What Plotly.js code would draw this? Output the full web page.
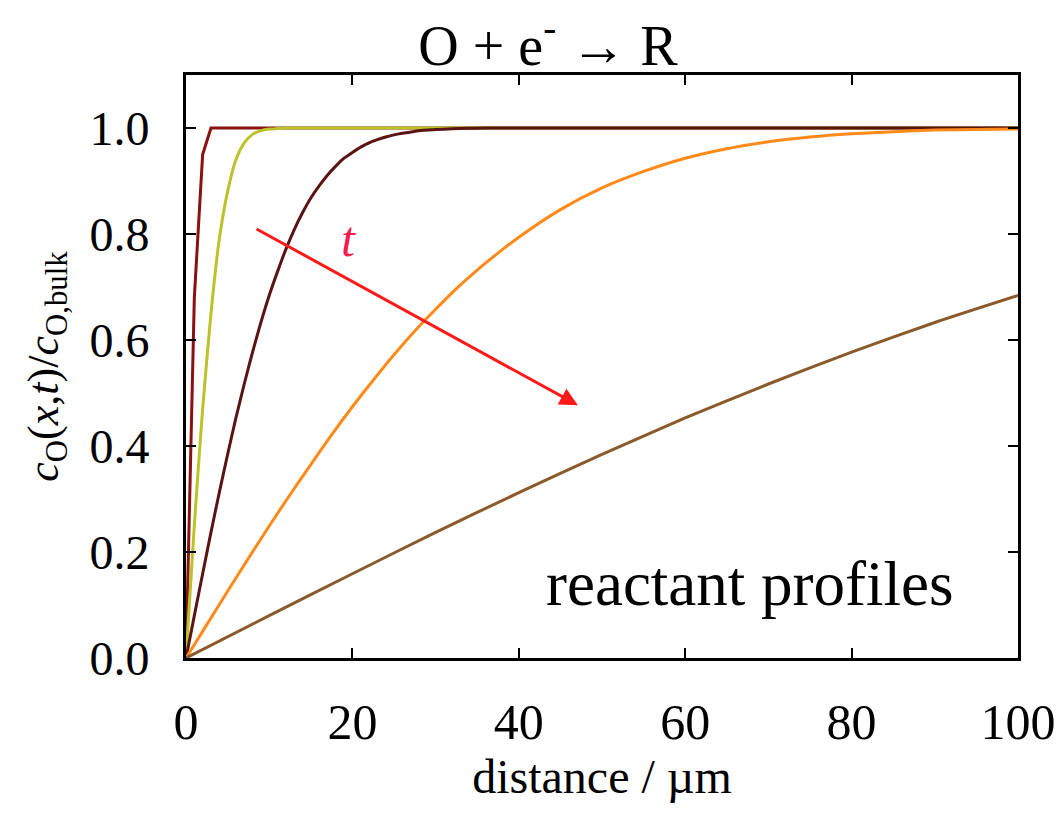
<!DOCTYPE html>
<html>
<head>
<meta charset="utf-8">
<script src="https://cdn.plot.ly/plotly-3.0.1.min.js"></script>
<style>html,body{margin:0;padding:0;background:#fff;}#chart{width:1061px;height:819px;}</style>
</head>
<body>
<div id="chart"></div>
<script>
// distance (µm) and normalised concentration c_O(x,t)/c_O,bulk
const x1 = [0, 1, 2, 3, 100];
const c1 = [0, 0.68, 0.95, 1.0, 1.0];

const x2 = [0, 1, 2, 3, 4, 5, 6, 7, 8, 9, 10, 11, 12, 100];
const c2 = [0, 0.25, 0.47, 0.65, 0.79, 0.88, 0.94, 0.972, 0.988, 0.995, 0.998, 0.999, 1.0, 1.0];

const x3 = [0, 1, 2, 3, 4, 5, 6, 7, 8, 9, 10, 11, 12, 13, 14, 15, 16, 17, 18, 19, 20,
            21, 22, 23, 24, 25, 26, 28, 30, 32, 34, 36, 100];
const c3 = [0, 0.08, 0.159, 0.237, 0.312, 0.384, 0.453, 0.517, 0.577, 0.633, 0.684, 0.729,
            0.771, 0.808, 0.840, 0.868, 0.891, 0.911, 0.928, 0.943, 0.954,
            0.964, 0.972, 0.978, 0.983, 0.987, 0.990, 0.995, 0.997, 0.9986, 0.9994, 1.0, 1.0];

const x4 = [0, 2.5, 5, 7.5, 10, 12.5, 15, 17.5, 20, 22.5, 25, 27.5, 30, 32.5, 35, 37.5, 40,
            45, 50, 55, 60, 65, 70, 75, 80, 85, 90, 95, 100];
const c4 = [0, 0.063, 0.126, 0.188, 0.249, 0.308, 0.365, 0.421, 0.474, 0.524, 0.572, 0.617,
            0.658, 0.697, 0.732, 0.764, 0.794, 0.846, 0.887, 0.918, 0.943, 0.961, 0.974,
            0.983, 0.989, 0.993, 0.996, 0.997, 0.998];

const x5 = [0, 10, 20, 30, 40, 50, 60, 70, 80, 90, 100];
const c5 = [0, 0.08, 0.159, 0.237, 0.312, 0.384, 0.453, 0.517, 0.577, 0.633, 0.684];

const xTicks = [0, 20, 40, 60, 80, 100];
const yTicks = [0, 0.2, 0.4, 0.6, 0.8, 1.0];

const series = [
  {x: x1, y: c1, color: '#8b1010', shape: 'linear'},
  {x: x2, y: c2, color: '#bcc22a', shape: 'spline'},
  {x: x3, y: c3, color: '#5a1414', shape: 'spline'},
  {x: x4, y: c4, color: '#ff8a1a', shape: 'spline'},
  {x: x5, y: c5, color: '#8b5a2b', shape: 'spline'}
];

const traces = series.map(s => ({
  type: 'scatter', mode: 'lines', x: s.x, y: s.y,
  line: {color: s.color, width: 3, shape: s.shape, smoothing: 0.6},
  hoverinfo: 'skip', showlegend: false
}));

const serif = "'Liberation Serif', 'Times New Roman', serif";

const layout = {
  width: 1061, height: 819,
  margin: {l: 186, r: 43, t: 75, b: 161},
  paper_bgcolor: '#fff', plot_bgcolor: '#fff',
  showlegend: false,
  font: {family: serif, color: '#000', size: 50},
  title: {
    text: 'O + e<sup>-</sup> \u2192 R',
    font: {family: serif, size: 56, color: '#000'},
    x: 0.435, xref: 'paper', xanchor: 'center',
    y: 0.945, yref: 'container', yanchor: 'middle'
  },
  xaxis: {
    range: [0, 100], tickvals: xTicks, ticktext: xTicks.map(String),
    ticks: 'inside', ticklen: 10, tickwidth: 2, tickcolor: '#000',
    showline: true, linewidth: 3, linecolor: '#000', mirror: 'ticks',
    showgrid: false, zeroline: false,
    tickfont: {family: serif, size: 50, color: '#000'},
    ticklabelstandoff: 18,
    title: {text: 'distance / \u00b5m', font: {family: serif, size: 48, color: '#000'}, standoff: 0}
  },
  yaxis: {
    range: [0, 1.1], tickvals: yTicks, ticktext: yTicks.map(v => v.toFixed(1)),
    ticks: 'inside', ticklen: 10, tickwidth: 2, tickcolor: '#000',
    showline: true, linewidth: 3, linecolor: '#000', mirror: 'ticks',
    showgrid: false, zeroline: false,
    tickfont: {family: serif, size: 48, color: '#000'},
    ticklabelstandoff: 24,
    title: {
      text: '<i>c</i><sub>O</sub>(<i>x</i>,<i>t</i>)/<i>c</i><sub>O,bulk</sub>',
      font: {family: serif, size: 44, color: '#000'}, standoff: 18
    }
  },
  annotations: [
    {x: 47.1, y: 0.477, ax: 8.3, ay: 0.811, xref: 'x', yref: 'y', axref: 'x', ayref: 'y',
     showarrow: true, arrowhead: 2, arrowsize: 1.2, arrowwidth: 3, arrowcolor: '#ff1a1a', text: ''},
    {x: 19.5, y: 0.79, xref: 'x', yref: 'y', showarrow: false,
     text: '<i>t</i>', font: {family: serif, size: 50, color: '#ff1a4a'}},
    {x: 67.8, y: 0.14, xref: 'x', yref: 'y', showarrow: false,
     text: 'reactant profiles', font: {family: serif, size: 63, color: '#000'}}
  ]
};

Plotly.newPlot('chart', traces, layout, {displayModeBar: false, staticPlot: true});
</script>
</body>
</html>
